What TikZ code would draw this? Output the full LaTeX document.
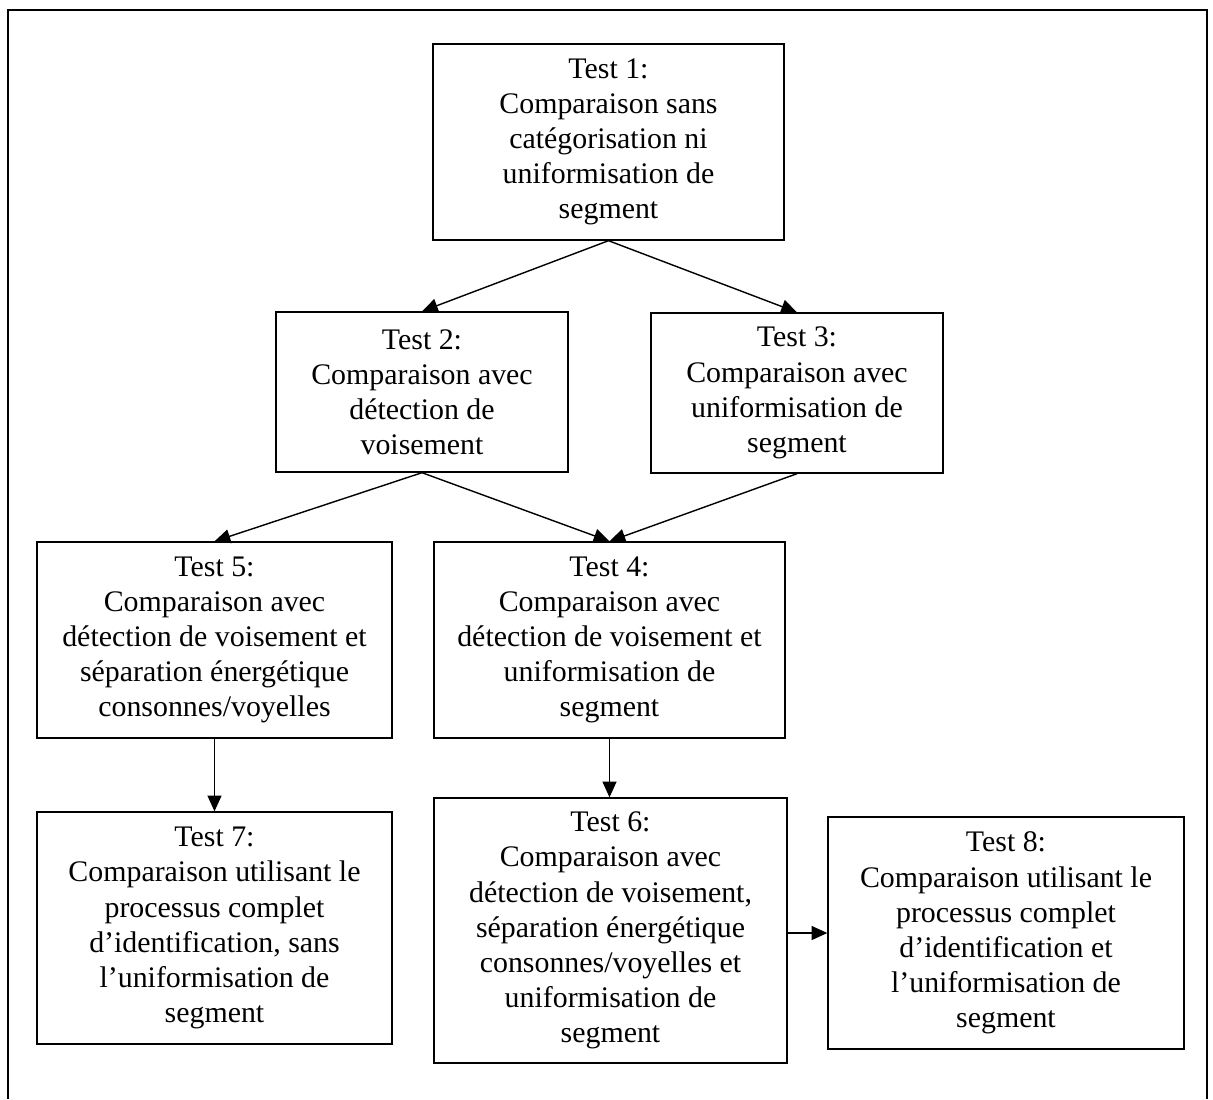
\documentclass[tikz,border=0pt]{standalone}
\usepackage{fontspec}
\setmainfont{Liberation Serif}
\usetikzlibrary{arrows.meta}

\tikzset{
  testbox/.style={draw, line width=0.8pt, align=center, inner sep=0pt,
    font=\fontsize{17}{20}\selectfont},
  flow/.style={-{Triangle[length=9pt, width=8pt]}, line width=0.8pt}
}

\begin{document}
\begin{tikzpicture}[x=0.02cm, y=-0.02cm]
  \useasboundingbox (0,0) rectangle (1213,1099);

  % Cadre (ouvert en bas)
  \draw[line width=0.9pt] (8,1099) -- (8,10) -- (1207,10) -- (1207,1099);

  % Premier niveau
  \node[testbox, minimum width=7.02cm, minimum height=3.92cm] (t1) at (608.5,142)
    {Test 1:\\Comparaison sans\\catégorisation ni\\uniformisation de\\segment};

  % Deuxième niveau
  \node[testbox, minimum width=5.84cm, minimum height=3.2cm] (t2) at (422,392)
    {Test 2:\\Comparaison avec\\détection de\\voisement};
  \node[testbox, minimum width=5.84cm, minimum height=3.2cm] (t3) at (797,393)
    {Test 3:\\Comparaison avec\\uniformisation de\\segment};

  % Troisième niveau
  \node[testbox, minimum width=7.1cm, minimum height=3.92cm] (t5) at (214.5,640)
    {Test 5:\\Comparaison avec\\détection de voisement et\\séparation énergétique\\consonnes/voyelles};
  \node[testbox, minimum width=7.02cm, minimum height=3.92cm] (t4) at (609.5,640)
    {Test 4:\\Comparaison avec\\détection de voisement et\\uniformisation de\\segment};

  % Quatrième niveau
  \node[testbox, minimum width=7.1cm, minimum height=4.64cm] (t7) at (214.5,928)
    {Test 7:\\Comparaison utilisant le\\processus complet\\d’identification, sans\\l’uniformisation de\\segment};
  \node[testbox, minimum width=7.06cm, minimum height=5.3cm] (t6) at (610.5,930.5)
    {Test 6:\\Comparaison avec\\détection de voisement,\\séparation énergétique\\consonnes/voyelles et\\uniformisation de\\segment};
  \node[testbox, minimum width=7.12cm, minimum height=4.64cm] (t8) at (1006,933)
    {Test 8:\\Comparaison utilisant le\\processus complet\\d’identification et\\l’uniformisation de\\segment};

  % Flèches
  \draw[flow] (t1.south) -- (t2.north);
  \draw[flow] (t1.south) -- (t3.north);
  \draw[flow] (t2.south) -- (t5.north);
  \draw[flow] (t2.south) -- (t4.north);
  \draw[flow] (t3.south) -- (t4.north);
  \draw[flow] (t5.south) -- (t7.north);
  \draw[flow] (t4.south) -- (t4.south |- t6.north);
  \draw[flow] (t6.east |- t8.west) -- (t8.west);
\end{tikzpicture}
\end{document}
